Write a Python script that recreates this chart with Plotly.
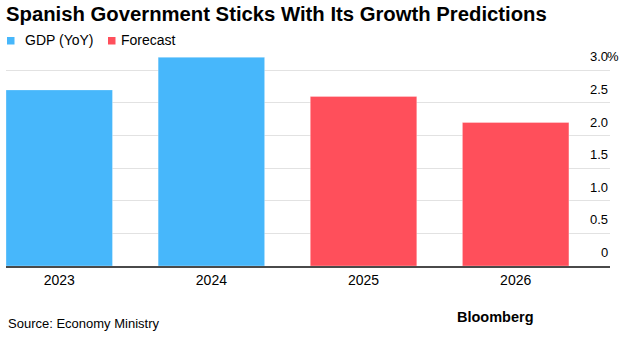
import plotly.graph_objects as go

# ---- data ----
years_actual = ["2023", "2024"]
gdp_actual = [2.7, 3.2]
years_forecast = ["2025", "2026"]
gdp_forecast = [2.6, 2.2]
categories = ["2023", "2024", "2025", "2026"]
ytick_vals = [0, 0.5, 1.0, 1.5, 2.0, 2.5, 3.0]
ytick_text = ["0", "0.5", "1.0", "1.5", "2.0", "2.5", "3.0"]
legend_names = ["GDP (YoY)", "Forecast"]

BLUE = "#47b7fb"
RED = "#ff4f5b"
FONT = "Liberation Sans"

W, H = 632, 342
L, R, T, B = 6, 22, 54, 76
PW = W - L - R

fig = go.Figure()
fig.add_trace(go.Bar(x=years_actual, y=gdp_actual, name=legend_names[0],
                     marker=dict(color=BLUE, line=dict(color="rgba(255,255,255,0.3)", width=1)),
                     showlegend=False))
fig.add_trace(go.Bar(x=years_forecast, y=gdp_forecast, name=legend_names[1],
                     marker=dict(color=RED, line=dict(color="rgba(255,255,255,0.3)", width=1)),
                     showlegend=False))

annotations = []
# y tick labels (inside, above gridlines, right aligned)
for v, t in zip(ytick_vals, ytick_text):
    annotations.append(dict(x=1, xref="paper", y=v, yref="y", text=t, showarrow=False,
                            xanchor="right", yanchor="middle", yshift=13.5,
                            font=dict(family=FONT, size=13, color="#000")))
annotations.append(dict(x=1, xref="paper", y=ytick_vals[-1], yref="y", text="%", showarrow=False,
                        xanchor="left", yanchor="middle", yshift=13.5, xshift=-5,
                        font=dict(family=FONT, size=13, color="#000")))

# custom legend
def px2paper(px):
    return (px - L) / PW

legend_items = [(legend_names[0], BLUE, 7, 23), (legend_names[1], RED, 108, 119)]
shapes = []
for name, col, sx, tx in legend_items:
    shapes.append(dict(type="rect", xref="paper", yref="paper",
                       xsizemode="pixel", ysizemode="pixel",
                       xanchor=px2paper(sx), yanchor=1,
                       x0=0, x1=7.5, y0=T - 44.5, y1=T - 37,
                       fillcolor=col, line=dict(width=0)))
    annotations.append(dict(x=px2paper(tx), xref="paper", y=1, yref="paper", yshift=T - 40,
                            text=name, showarrow=False, xanchor="left", yanchor="middle",
                            font=dict(family=FONT, size=14, color="#000")))

# source & branding
annotations.append(dict(x=0, xref="paper", y=0, yref="paper", yshift=-57,
                        text="Source: Economy Ministry", showarrow=False,
                        xanchor="left", yanchor="middle",
                        font=dict(family=FONT, size=13, color="#000")))
annotations.append(dict(x=px2paper(455), xref="paper", y=0, yref="paper", yshift=-51,
                        text="<b>Bloomberg</b>", showarrow=False,
                        xanchor="left", yanchor="middle",
                        font=dict(family=FONT, size=14.5, color="#000")))

fig.update_layout(
    width=W, height=H,
    margin=dict(l=L, r=R, t=T, b=B, autoexpand=False),
    paper_bgcolor="white", plot_bgcolor="white",
    barmode="relative", bargap=0.3,
    title=dict(text="<b>Spanish Government Sticks With Its Growth Predictions</b>",
               x=6 / W, xanchor="left", xref="container",
               y=1 - 13.5 / H, yanchor="middle", yref="container",
               font=dict(family=FONT, size=20.3, color="#000")),
    xaxis=dict(type="category", categoryorder="array", categoryarray=categories,
               range=[-0.35, 3.62], showgrid=False, showline=True,
               linecolor="#4a4a4a", linewidth=1.5, ticks="",
               tickfont=dict(family=FONT, size=14, color="#000")),
    yaxis=dict(range=[0, 3.25], tickvals=ytick_vals, showticklabels=False,
               showgrid=True, gridcolor="#e2e2e2", gridwidth=1, zeroline=False),
    annotations=annotations, shapes=shapes,
)

fig.write_html("out.html")
